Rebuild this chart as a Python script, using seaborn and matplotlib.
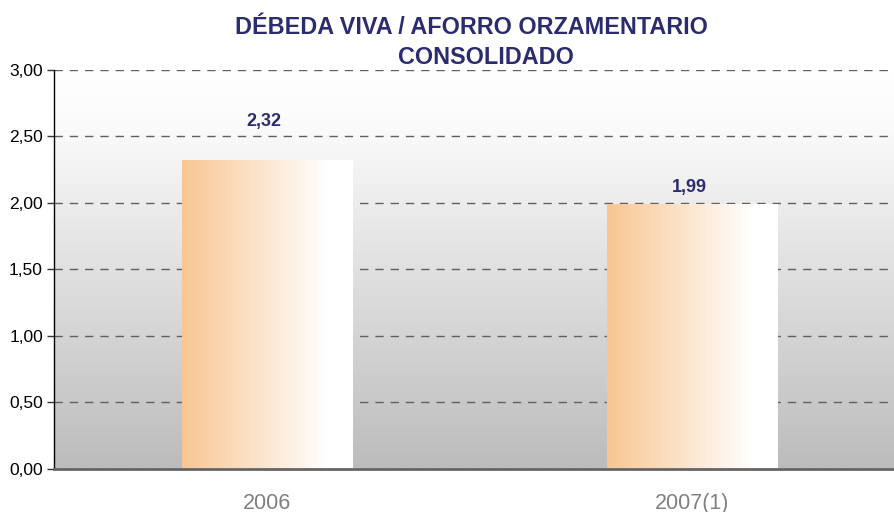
import numpy as np
import pandas as pd
import matplotlib
matplotlib.use("Agg")
import matplotlib.pyplot as plt
import seaborn as sns
from matplotlib.colors import LinearSegmentedColormap

categorias = ["2006", "2007(1)"]
valores = [2.32, 1.99]
etiquetas = ["2,32", "1,99"]
y_ticks = [0.0, 0.5, 1.0, 1.5, 2.0, 2.5, 3.0]
y_labels = ["0,00", "0,50", "1,00", "1,50", "2,00", "2,50", "3,00"]
titulo = ["DÉBEDA VIVA / AFORRO ORZAMENTARIO", "CONSOLIDADO"]

sns.set_style("white")
plt.rcParams["font.family"] = ["Liberation Sans", "DejaVu Sans"]

df = pd.DataFrame({"ano": categorias, "valor": valores})

fig = plt.figure(figsize=(8.94, 5.12), dpi=100)
ax = fig.add_axes([0.0604, 0.084, 0.9396, 0.7793])

sns.barplot(data=df, x="ano", y="valor", width=0.4, color="white",
            edgecolor="none", ax=ax, zorder=3)

# fondo degradado gris
fondo = LinearSegmentedColormap.from_list(
    "fondo", [(0, "#bcbcbc"), (0.85, "#fafafa"), (1, "#ffffff")])
grad = np.linspace(0, 1, 256).reshape(-1, 1)
ax.imshow(grad, cmap=fondo, aspect="auto", origin="lower",
          extent=[0, 1, 0, 1], transform=ax.transAxes, zorder=0)

# degradado laranxa nas barras
laranxa = LinearSegmentedColormap.from_list(
    "laranxa", [(0, "#f8c693"), (0.85, "#ffffff"), (1, "#ffffff")])
hgrad = np.linspace(0, 1, 256).reshape(1, -1)
for p in ax.patches:
    x, w, h = p.get_x(), p.get_width(), p.get_height()
    ax.imshow(hgrad, cmap=laranxa, aspect="auto",
              extent=[x, x + w, 0, h], zorder=4)

ax.set_xlim(-0.5, 1.475)
ax.set_ylim(0, 3)

ax.yaxis.grid(True, color="#606060", linestyle=(0, (6, 5)), linewidth=1)
ax.set_axisbelow(True)
for gl in ax.get_ygridlines():
    gl.set_zorder(1)

# etiquetas de valor
desprazamentos = [22, 6]
for p, txt, dy in zip(ax.patches, etiquetas, desprazamentos):
    ax.annotate(txt, (p.get_x() + p.get_width() / 2 - 0.007, p.get_height()),
                xytext=(0, dy), textcoords="offset points",
                ha="center", va="bottom", fontsize=13, fontweight="bold",
                color="#2b2b6f", zorder=6)

ax.set_yticks(y_ticks)
ax.set_yticklabels(y_labels, fontsize=12.5, color="black")
ax.set_xticks(range(len(categorias)))
ax.set_xticklabels(categorias, fontsize=15.5, color="#808080")
ax.set_xticks([0.5], minor=True)
ax.tick_params(axis="x", which="major", length=0, pad=17)
ax.tick_params(axis="x", which="minor", length=6, width=1, color="#333333")
ax.tick_params(axis="y", length=5, width=1, color="#333333", left=True, pad=3)

ax.set_xlabel("")
ax.set_ylabel("")

for s in ["top", "right"]:
    ax.spines[s].set_visible(False)
ax.spines["left"].set_color("black")
ax.spines["left"].set_linewidth(1)
ax.spines["left"].set_zorder(7)
ax.spines["bottom"].set_color("#666666")
ax.spines["bottom"].set_linewidth(2)
ax.spines["bottom"].set_zorder(7)

fig.text(471 / 894, 1 - 27 / 512, titulo[0], ha="center", va="center",
         fontsize=16.8, fontweight="bold", color="#2b2b6f")
fig.text(486 / 894, 1 - 57 / 512, titulo[1], ha="center", va="center",
         fontsize=16.8, fontweight="bold", color="#2b2b6f")

fig.savefig("out.png", dpi=100)
